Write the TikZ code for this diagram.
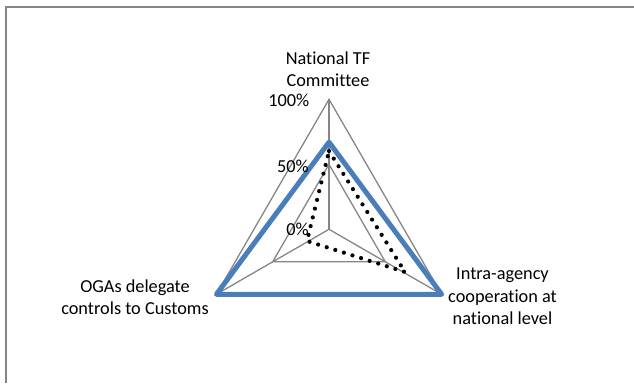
\documentclass[tikz,border=0pt]{standalone}
\usepackage{fontspec}
\setmainfont[Ligatures=NoCommon]{Carlito}
\definecolor{gridgray}{HTML}{868686}
\definecolor{seriesblue}{HTML}{4A7EBB}
\begin{document}
\begin{tikzpicture}[x=1pt,y=-1pt,
  gridline/.style={draw=gridgray,line width=1.3pt,line join=miter},
  frameline/.style={draw=gridgray,line width=1.3pt},
  blueseries/.style={draw=seriesblue,line width=5pt,line join=round},
  dotseries/.style={draw=black,line width=4.2pt,line cap=round,dash pattern=on 0pt off 9pt},
  lbl/.style={font=\fontsize{18.3}{22.5}\selectfont,align=center,inner sep=0pt},
  tick/.style={font=\fontsize{18.3}{22.5}\selectfont,anchor=east,inner sep=0pt}]
\useasboundingbox (0,0) rectangle (634,383);
% frame (right and bottom sides fall outside the picture)
\coordinate (fb) at (6,383);
\coordinate (ftl) at (6,7);
\coordinate (fr) at (634,7);
\draw[frameline] (fb) -- (ftl) -- (fr);
% geometry
\coordinate (c) at (329,229.3);
\coordinate (T1) at (329,99.3);
\coordinate (L1) at (216.4,294.3);
\coordinate (R1) at (441.6,294.3);
\coordinate (T5) at (329,164.3);
\coordinate (L5) at (272.7,261.8);
\coordinate (R5) at (385.3,261.8);
% grid
\draw[gridline] (T1) -- (R1) -- (L1) -- cycle;
\draw[gridline] (T5) -- (R5) -- (L5) -- cycle;
\draw[gridline] (c) -- (T1);
\draw[gridline] (c) -- (L1);
\draw[gridline] (c) -- (R1);
% series
\coordinate (BT) at (329,142.2);
\coordinate (BL) at (216.4,294.3);
\coordinate (BR) at (441.6,294.3);
\draw[blueseries] (BT) -- (BR) -- (BL) -- cycle;
\coordinate (DT) at (329,151);
\coordinate (DL) at (307,241);
\coordinate (DR) at (405,272);
\draw[dotseries] (DT) -- (DR) -- (DL) -- cycle;
% tick labels
\node[tick] (t100) at (309.5,100) {100\%};
\node[tick] (t50) at (309,166) {50\%};
\node[tick] (t0) at (309,229) {0\%};
% category labels
\node[lbl] (ntf) at (328,69) {National TF\\Committee};
\node[lbl] (oga) at (135,297) {OGAs delegate\\controls to Customs};
\node[lbl] (iac) at (502.5,296.5) {Intra-agency\\cooperation at\\national level};
\end{tikzpicture}
\end{document}
